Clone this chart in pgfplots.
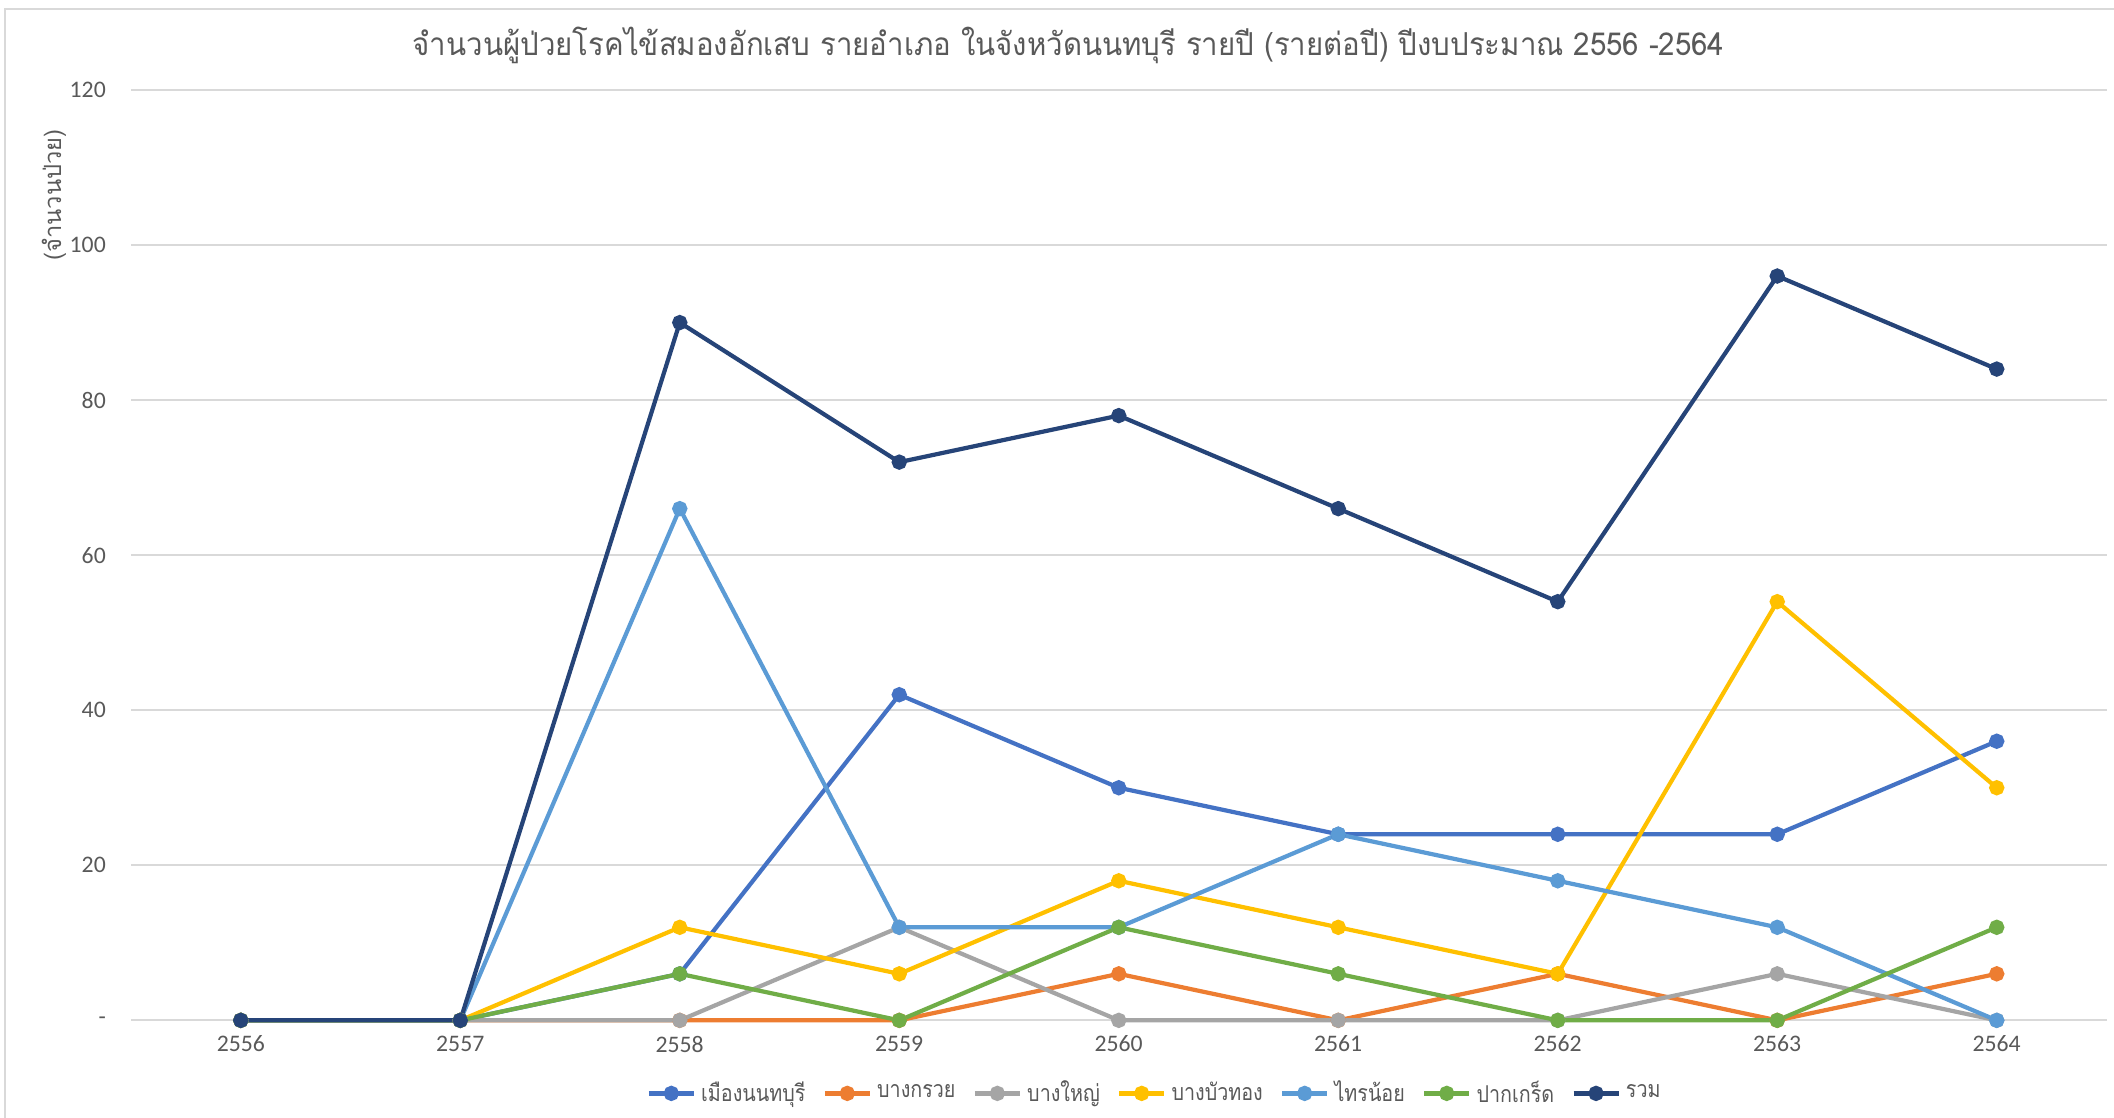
\documentclass[border=0pt]{standalone}
\usepackage{fontspec}
\setmainfont{Carlito}
\newfontfamily\thai[Script=Thai]{Loma}
\newfontfamily\thaititle[Script=Thai, FakeStretch=0.93]{Loma}
\newfontfamily\thainarrow[Script=Thai, FakeStretch=0.85]{Loma}
\usepackage{pgfplots}
\pgfplotsset{compat=1.18}

\definecolor{txt}{HTML}{595959}
\definecolor{grd}{HTML}{D9D9D9}
\definecolor{cMuang}{HTML}{4472C4}
\definecolor{cKruai}{HTML}{ED7D31}
\definecolor{cYai}{HTML}{A5A5A5}
\definecolor{cBua}{HTML}{FFC000}
\definecolor{cSai}{HTML}{5B9BD5}
\definecolor{cPak}{HTML}{70AD47}
\definecolor{cSum}{HTML}{264478}

\begin{document}
\begin{tikzpicture}
% picture frame: 1px of the reference = 0.01334cm
\path[use as bounding box] (-1.748,-1.294) rectangle (26.45,13.61);
\draw[grd, line width=0.6pt] (-1.681,-1.4) -- (-1.681,13.49) -- (26.6,13.49);

\begin{axis}[
    at={(0,0)}, anchor=south west,
    scale only axis, width=26.35cm, height=12.41cm,
    xmin=2555.5, xmax=2564.5, ymin=0, ymax=120,
    xtick={2556,...,2564},
    xticklabels={2556,2557,2558,2559,2560,2561,2562,2563,2564},
    ytick={0,20,...,120},
    yticklabels={-,20,40,60,80,100,120},
    major tick length=0pt,
    axis line style={draw=none},
    ymajorgrids, grid style={grd, line width=0.8pt},
    tick label style={font=\fontsize{9}{10}\selectfont, color=txt},
    x tick label style={inner sep=0pt, yshift=-0.2cm},
    y tick label style={inner sep=0pt, xshift=-0.33cm},
    clip=false,
    every axis plot/.append style={line width=1.6pt, mark=*, mark size=2.1pt},
    legend columns=7,
    legend style={at={(0.519,-0.0785)}, anchor=center, draw=none,
        font=\thainarrow\fontsize{8.8}{10}\selectfont, text=txt,
        /tikz/every even column/.append style={column sep=0.16cm}},
    legend image code/.code={
        \draw[#1, mark=none] (0cm,0cm) -- (0.6cm,0cm);
        \draw[#1, only marks] plot coordinates {(0.3cm,0cm)};},
]
\addplot[cMuang] coordinates {(2556,0)(2557,0)(2558,6)(2559,42)(2560,30)(2561,24)(2562,24)(2563,24)(2564,36)};
\addlegendentry{เมืองนนทบุรี}
\addplot[cKruai] coordinates {(2556,0)(2557,0)(2558,0)(2559,0)(2560,6)(2561,0)(2562,6)(2563,0)(2564,6)};
\addlegendentry{บางกรวย}
\addplot[cYai] coordinates {(2556,0)(2557,0)(2558,0)(2559,12)(2560,0)(2561,0)(2562,0)(2563,6)(2564,0)};
\addlegendentry{บางใหญ่}
\addplot[cBua] coordinates {(2556,0)(2557,0)(2558,12)(2559,6)(2560,18)(2561,12)(2562,6)(2563,54)(2564,30)};
\addlegendentry{บางบัวทอง}
\addplot[cSai] coordinates {(2556,0)(2557,0)(2558,66)(2559,12)(2560,12)(2561,24)(2562,18)(2563,12)(2564,0)};
\addlegendentry{ไทรน้อย}
\addplot[cPak] coordinates {(2556,0)(2557,0)(2558,6)(2559,0)(2560,12)(2561,6)(2562,0)(2563,0)(2564,12)};
\addlegendentry{ปากเกร็ด}
\addplot[cSum] coordinates {(2556,0)(2557,0)(2558,90)(2559,72)(2560,78)(2561,66)(2562,54)(2563,96)(2564,84)};
\addlegendentry{รวม}

\node[color=txt, font=\thaititle\fontsize{12}{14}\selectfont] at (axis description cs:0.4745,1.0475)
    {จำนวนผู้ป่วยโรคไข้สมองอักเสบ รายอำเภอ ในจังหวัดนนทบุรี รายปี (รายต่อปี) ปีงบประมาณ 2556 -2564};
\node[color=txt, rotate=90, font=\thai\fontsize{9}{10}\selectfont] at (axis description cs:-0.039,0.887)
    {(จำนวนป่วย)};
\end{axis}
\end{tikzpicture}
\end{document}
